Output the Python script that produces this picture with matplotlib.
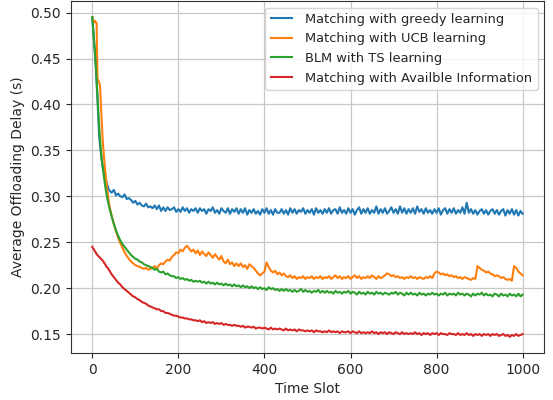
import numpy as np
import matplotlib
matplotlib.use("Agg")
import matplotlib.pyplot as plt

# time slots: dense at the start, then every 5 slots
t_early = list(range(0, 40, 2))
t_late = list(range(40, 1001, 5))
time_slots = t_early + t_late

labels = ["Matching with greedy learning", "Matching with UCB learning",
          "BLM with TS learning", "Matching with Availble Information"]

greedy = [
    0.495, 0.482, 0.468, 0.455, 0.443, 0.425, 0.405, 0.385, 0.365, 0.355,
    0.347, 0.339, 0.333, 0.328, 0.324, 0.320, 0.317, 0.313, 0.311, 0.308,
    # 40..
    0.306, 0.304, 0.307, 0.301, 0.303, 0.300, 0.299, 0.302, 0.297, 0.298,
    0.296, 0.293, 0.295, 0.291, 0.293, 0.290, 0.289, 0.292, 0.288, 0.289,
    0.287, 0.290, 0.286, 0.290, 0.284, 0.288, 0.284, 0.288, 0.285, 0.286,
    0.288, 0.283, 0.286, 0.283, 0.288, 0.284, 0.287, 0.282, 0.286, 0.284,
    0.287, 0.282, 0.287, 0.284, 0.286, 0.281, 0.286, 0.284, 0.288, 0.282,
    0.285, 0.281, 0.287, 0.284, 0.282, 0.287, 0.281, 0.286, 0.283, 0.287,
    0.281, 0.286, 0.282, 0.287, 0.280, 0.285, 0.282, 0.286, 0.281, 0.284,
    0.280, 0.286, 0.282, 0.287, 0.281, 0.285, 0.280, 0.286, 0.282, 0.282,
    0.286, 0.281, 0.285, 0.280, 0.287, 0.282, 0.286, 0.281, 0.285, 0.283,
    0.287, 0.281, 0.285, 0.282, 0.286, 0.280, 0.287, 0.282, 0.285, 0.281,
    0.286, 0.282, 0.287, 0.281, 0.285, 0.286, 0.281, 0.288, 0.282, 0.285,
    0.281, 0.287, 0.282, 0.286, 0.280, 0.285, 0.288, 0.281, 0.286, 0.282,
    0.287, 0.281, 0.285, 0.282, 0.289, 0.281, 0.286, 0.282, 0.287, 0.281,
    0.284, 0.288, 0.282, 0.286, 0.281, 0.289, 0.282, 0.287, 0.281, 0.286,
    0.282, 0.287, 0.281, 0.289, 0.283, 0.286, 0.281, 0.287, 0.282, 0.285,
    0.281, 0.286, 0.282, 0.287, 0.280, 0.285, 0.287, 0.281, 0.286, 0.282,
    0.287, 0.281, 0.285, 0.282, 0.288, 0.281, 0.293, 0.282, 0.286, 0.281,
    0.285, 0.280, 0.284, 0.286, 0.281, 0.285, 0.280, 0.284, 0.286, 0.281,
    0.285, 0.280, 0.284, 0.286, 0.279, 0.285, 0.281, 0.286, 0.280, 0.285,
    0.279, 0.284, 0.281,
]

ucb = [
    0.495, 0.492, 0.490, 0.491, 0.489, 0.489, 0.428, 0.426, 0.424, 0.420,
    0.400, 0.380, 0.362, 0.350, 0.338, 0.327, 0.318, 0.310, 0.302, 0.295,
    # 40..
    0.289, 0.279, 0.270, 0.262, 0.255, 0.249, 0.244, 0.239, 0.235, 0.232,
    0.229, 0.227, 0.225, 0.224, 0.223, 0.222, 0.221, 0.222, 0.220, 0.221,
    0.222, 0.224, 0.221, 0.225, 0.227, 0.226, 0.229, 0.231, 0.230, 0.234,
    0.236, 0.239, 0.238, 0.242, 0.240, 0.244, 0.246, 0.243, 0.240, 0.242,
    0.238, 0.241, 0.236, 0.240, 0.237, 0.235, 0.239, 0.236, 0.233, 0.237,
    0.234, 0.231, 0.235, 0.229, 0.227, 0.231, 0.226, 0.228, 0.224, 0.227,
    0.224, 0.227, 0.223, 0.225, 0.221, 0.226, 0.224, 0.222, 0.219, 0.216,
    0.214, 0.216, 0.218, 0.228, 0.223, 0.219, 0.217, 0.219, 0.215, 0.217,
    0.214, 0.216, 0.213, 0.212, 0.214, 0.211, 0.213, 0.210, 0.212, 0.211,
    0.213, 0.210, 0.212, 0.211, 0.213, 0.210, 0.212, 0.211, 0.213, 0.210,
    0.212, 0.211, 0.213, 0.210, 0.212, 0.214, 0.211, 0.213, 0.210, 0.212,
    0.211, 0.213, 0.210, 0.212, 0.214, 0.211, 0.213, 0.210, 0.212, 0.211,
    0.213, 0.211, 0.214, 0.212, 0.210, 0.213, 0.211, 0.212, 0.214, 0.216,
    0.215, 0.213, 0.214, 0.212, 0.213, 0.211, 0.212, 0.210, 0.212, 0.211,
    0.213, 0.211, 0.212, 0.210, 0.212, 0.211, 0.210, 0.212, 0.211, 0.213,
    0.211, 0.216, 0.218, 0.217, 0.215, 0.216, 0.214, 0.215, 0.213, 0.214,
    0.212, 0.213, 0.211, 0.212, 0.210, 0.212, 0.211, 0.210, 0.209, 0.211,
    0.210, 0.224, 0.222, 0.220, 0.219, 0.217, 0.218, 0.216, 0.215, 0.213,
    0.214, 0.213, 0.211, 0.212, 0.210, 0.209, 0.210, 0.208, 0.224, 0.222,
    0.218, 0.216, 0.214,
]

ts = [
    0.495, 0.482, 0.470, 0.458, 0.443, 0.427, 0.410, 0.393, 0.376, 0.362,
    0.350, 0.340, 0.332, 0.325, 0.318, 0.311, 0.305, 0.300, 0.295, 0.291,
    # 40..
    0.287, 0.278, 0.270, 0.263, 0.257, 0.252, 0.248, 0.245, 0.242, 0.239,
    0.236, 0.234, 0.232, 0.231, 0.229, 0.228, 0.226, 0.225, 0.224, 0.223,
    0.222, 0.220, 0.221, 0.218, 0.217, 0.218, 0.215, 0.216, 0.214, 0.213,
    0.213, 0.211, 0.212, 0.210, 0.211, 0.209, 0.210, 0.208, 0.209, 0.207,
    0.208, 0.207, 0.208, 0.206, 0.207, 0.205, 0.207, 0.205, 0.206, 0.204,
    0.206, 0.204, 0.205, 0.203, 0.205, 0.203, 0.204, 0.202, 0.204, 0.202,
    0.203, 0.201, 0.203, 0.201, 0.202, 0.200, 0.202, 0.200, 0.201, 0.199,
    0.201, 0.199, 0.200, 0.198, 0.201, 0.199, 0.200, 0.198, 0.199, 0.197,
    0.199, 0.197, 0.199, 0.197, 0.198, 0.196, 0.198, 0.196, 0.197, 0.199,
    0.196, 0.198, 0.196, 0.197, 0.195, 0.197, 0.196, 0.198, 0.195, 0.197,
    0.195, 0.197, 0.195, 0.196, 0.194, 0.197, 0.195, 0.196, 0.194, 0.196,
    0.195, 0.197, 0.194, 0.196, 0.195, 0.193, 0.196, 0.194, 0.195, 0.193,
    0.196, 0.194, 0.195, 0.193, 0.196, 0.194, 0.195, 0.193, 0.195, 0.194,
    0.193, 0.195, 0.194, 0.196, 0.193, 0.195, 0.194, 0.192, 0.195, 0.193,
    0.195, 0.193, 0.194, 0.192, 0.195, 0.193, 0.194, 0.192, 0.194, 0.193,
    0.195, 0.193, 0.194, 0.192, 0.194, 0.193, 0.195, 0.192, 0.194, 0.193,
    0.194, 0.192, 0.195, 0.193, 0.194, 0.192, 0.194, 0.193, 0.191, 0.194,
    0.192, 0.194, 0.193, 0.195, 0.192, 0.194, 0.192, 0.193, 0.191, 0.194,
    0.193, 0.191, 0.194, 0.192, 0.193, 0.191, 0.194, 0.192, 0.193, 0.191,
    0.194, 0.191, 0.193,
]

avail = [
    0.245, 0.243, 0.242, 0.240, 0.239, 0.237, 0.236, 0.235, 0.234, 0.233,
    0.232, 0.231, 0.230, 0.229, 0.227, 0.226, 0.224, 0.223, 0.222, 0.220,
    # 40..
    0.219, 0.215, 0.212, 0.209, 0.206, 0.204, 0.201, 0.199, 0.197, 0.195,
    0.193, 0.191, 0.190, 0.188, 0.187, 0.185, 0.184, 0.183, 0.181, 0.180,
    0.179, 0.178, 0.177, 0.177, 0.175, 0.175, 0.173, 0.173, 0.172, 0.171,
    0.170, 0.170, 0.169, 0.168, 0.168, 0.167, 0.167, 0.166, 0.166, 0.165,
    0.165, 0.164, 0.165, 0.163, 0.164, 0.162, 0.163, 0.162, 0.163, 0.161,
    0.162, 0.161, 0.162, 0.160, 0.161, 0.160, 0.160, 0.159, 0.160, 0.159,
    0.159, 0.158, 0.159, 0.157, 0.158, 0.158, 0.157, 0.158, 0.156, 0.157,
    0.157, 0.156, 0.157, 0.156, 0.155, 0.157, 0.155, 0.156, 0.155, 0.156,
    0.155, 0.154, 0.156, 0.154, 0.155, 0.154, 0.155, 0.153, 0.155, 0.154,
    0.154, 0.153, 0.154, 0.153, 0.154, 0.152, 0.154, 0.153, 0.153, 0.152,
    0.153, 0.152, 0.154, 0.152, 0.153, 0.152, 0.153, 0.151, 0.153, 0.152,
    0.152, 0.153, 0.151, 0.153, 0.152, 0.151, 0.153, 0.151, 0.152, 0.151,
    0.152, 0.151, 0.153, 0.151, 0.152, 0.150, 0.152, 0.151, 0.152, 0.150,
    0.152, 0.151, 0.150, 0.152, 0.151, 0.150, 0.152, 0.150, 0.151, 0.150,
    0.151, 0.150, 0.152, 0.150, 0.151, 0.149, 0.151, 0.150, 0.151, 0.149,
    0.151, 0.150, 0.151, 0.149, 0.151, 0.150, 0.150, 0.149, 0.151, 0.150,
    0.150, 0.149, 0.151, 0.149, 0.150, 0.149, 0.151, 0.149, 0.150, 0.148,
    0.150, 0.149, 0.150, 0.148, 0.150, 0.149, 0.150, 0.148, 0.150, 0.149,
    0.150, 0.148, 0.149, 0.150, 0.148, 0.149, 0.147, 0.149, 0.148, 0.150,
    0.148, 0.149, 0.150,
]

colors = ["#1f77b4", "#ff7f0e", "#2ca02c", "#d62728"]

plt.rcParams["font.family"] = ["DejaVu Sans"]
plt.rcParams["text.color"] = "#262626"
plt.rcParams["axes.labelcolor"] = "#262626"
plt.rcParams["xtick.color"] = "#262626"
plt.rcParams["ytick.color"] = "#262626"

fig, ax = plt.subplots(figsize=(5.53, 4.0), dpi=100)
fig.subplots_adjust(left=0.128, right=0.984, top=0.997, bottom=0.118)

for series, lab, c in zip([greedy, ucb, ts, avail], labels, colors):
    ax.plot(time_slots, series, color=c, linewidth=1.5, label=lab)

ax.grid(True, color="#c8c8c8", linewidth=0.9)
ax.set_axisbelow(True)
for sp in ax.spines.values():
    sp.set_color("#333333")
ax.set_xticks([0, 200, 400, 600, 800, 1000])
ax.set_yticks([0.15, 0.20, 0.25, 0.30, 0.35, 0.40, 0.45, 0.50])
ax.yaxis.set_major_formatter(matplotlib.ticker.FormatStrFormatter("%.2f"))
ax.set_xlabel("Time Slot")
ax.set_ylabel("Average Offloading Delay (s)")
ax.legend(loc="upper right", fontsize=9.4, handlelength=1.65,
          handletextpad=1.0)

fig.savefig("out.png", dpi=100)
